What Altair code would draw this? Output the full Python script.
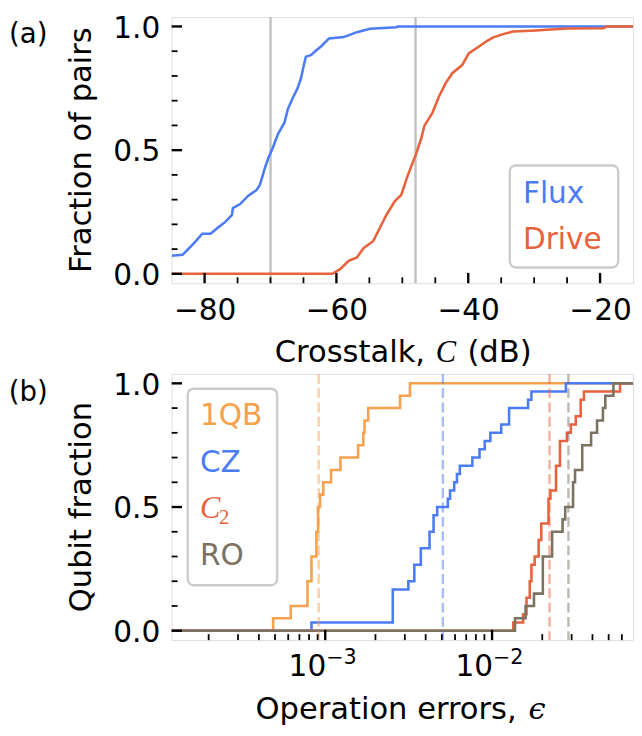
import altair as alt
import pandas as pd

FONT = "DejaVu Sans"
W, H = 468, 270

# ---------------- panel (a): crosstalk CDFs ----------------
flux_db = [-85.0, -83.34, -82.35, -81.6, -80.35, -79.1, -77.86, -76.86, -75.86, -75.71,
           -74.61, -73.36, -72.12, -71.62, -70.87, -70.37, -69.62, -68.87, -67.87, -67.38,
           -66.63, -65.88, -65.38, -64.88, -64.63, -63.88, -63.13, -62.39, -61.64, -61.14,
           -58.89, -56.89, -54.9, -50.9, -50.7, -15.0]
flux_frac = [0.073, 0.077, 0.104, 0.124, 0.162, 0.162, 0.189, 0.21, 0.237, 0.266,
             0.282, 0.316, 0.339, 0.359, 0.426, 0.465, 0.512, 0.565, 0.612, 0.665,
             0.711, 0.751, 0.791, 0.851, 0.878, 0.884, 0.902, 0.918, 0.938, 0.951,
             0.957, 0.977, 0.991, 0.997, 1.0, 1.0]
drive_db = [-85.0, -60.63, -59.39, -58.14, -56.89, -55.89, -54.4, -53.65, -52.4, -51.15,
            -50.16, -49.16, -47.91, -47.16, -46.66, -45.42, -44.42, -43.42, -42.42, -40.92,
            -39.93, -38.43, -37.18, -36.2, -34.7, -33.2, -30.45, -27.45, -24.97, -19.48,
            -18.98, -15.0]
drive_frac = [0.0, 0.0, 0.02, 0.053, 0.066, 0.104, 0.133, 0.173, 0.239, 0.293,
              0.319, 0.399, 0.485, 0.545, 0.598, 0.652, 0.718, 0.771, 0.811, 0.844,
              0.891, 0.918, 0.941, 0.956, 0.969, 0.98, 0.983, 0.988, 0.992, 0.993,
              1.0, 1.0]
crosstalk_median_db = [-70.0, -48.0]
a_series = ["Flux", "Drive"]
a_colors = ["#4c7cf3", "#e8623c"]
a_x_domain = [-85, -15]
a_x_major = [-80, -60, -40, -20]
a_x_minor = [-75, -70, -65, -55, -50, -45, -35, -30, -25]
frac_domain = [-0.038, 1.038]
frac_major = [0.0, 0.5, 1.0]
frac_minor = [0.1, 0.2, 0.3, 0.4, 0.6, 0.7, 0.8, 0.9]

# ---------------- panel (b): operation error CDFs ----------------
b_series = ["1QB", "CZ", "C2", "RO"]
b_colors = ["#f5a14d", "#4c7cf3", "#e8623c", "#7b7261"]
err_1qb = [4.87e-4, 6.21e-4, 7.83e-4, 7.83e-4, 8.27e-4, 8.27e-4, 8.85e-4, 8.85e-4, 9.05e-4, 9.05e-4,
           9.31e-4, 9.73e-4, 1.084e-3, 1.233e-3, 1.574e-3, 1.691e-3, 1.72e-3, 1.81e-3, 2.81e-3, 3.22e-3]
err_cz = [8.27e-4, 2.54e-3, 2.54e-3, 2.54e-3, 2.54e-3, 3.15e-3, 3.42e-3, 3.42e-3, 3.74e-3, 3.74e-3,
          4.22e-3, 4.22e-3, 4.46e-3, 4.46e-3, 4.69e-3, 5.43e-3, 5.60e-3, 5.93e-3, 6.16e-3, 6.41e-3,
          7.62e-3, 8.41e-3, 9.04e-3, 9.77e-3, 1.135e-2, 1.265e-2, 1.265e-2, 1.644e-2, 1.722e-2, 2.772e-2]
err_c2 = [1.341e-2, 1.536e-2, 1.609e-2, 1.609e-2, 1.683e-2, 1.683e-2, 1.722e-2, 1.722e-2, 1.801e-2, 1.902e-2,
          1.902e-2, 1.973e-2, 1.973e-2, 2.18e-2, 2.18e-2, 2.18e-2, 2.239e-2, 2.419e-2, 2.419e-2, 2.419e-2,
          2.554e-2, 2.554e-2, 2.554e-2, 2.81e-2, 2.967e-2, 3.176e-2, 3.399e-2, 3.399e-2, 3.555e-2, 5.853e-2]
err_ro = [1.373e-2, 1.588e-2, 1.784e-2, 2.016e-2, 2.016e-2, 2.016e-2, 2.291e-2, 2.291e-2, 2.647e-2, 2.746e-2,
          3.06e-2, 3.06e-2, 3.145e-2, 3.473e-2, 3.473e-2, 3.925e-2, 4.26e-2, 4.62e-2, 4.775e-2, 5.343e-2]
b_medians = [9.14e-4, 5.07e-3, 2.21e-2, 2.87e-2]
b_x_domain = [1.2e-4, 0.07]
b_x_major = [1e-3, 1e-2]
b_x_major_base = ["10", "10"]
b_x_major_exp = ["\u22123", "\u22122"]
b_x_minor = [2e-4, 3e-4, 4e-4, 5e-4, 6e-4, 7e-4, 8e-4, 9e-4,
             2e-3, 3e-3, 4e-3, 5e-3, 6e-3, 7e-3, 8e-3, 9e-3,
             2e-2, 3e-2, 4e-2, 5e-2, 6e-2]

# ---------------- helpers ----------------
ys = alt.Scale(domain=frac_domain, nice=False, zero=False)
xs_a = alt.Scale(domain=a_x_domain, nice=False, zero=False)
xs_b = alt.Scale(type="log", domain=b_x_domain, nice=False)

ax_common = dict(ticks=False, tickSize=0, domain=False, grid=False, title=None,
                 labelFontSize=30, labelFont=FONT, labelColor="black", labelFlush=False)
ax_xa = alt.Axis(values=a_x_major, format="d", labelPadding=13, **ax_common)
ax_y = alt.Axis(values=frac_major, format=".1f", labelPadding=12, labelOffset=2, **ax_common)


def txt(s, x, y, size=30, color="black", align="left", baseline="alphabetic",
        font=FONT, style="normal", angle=0):
    return alt.Chart(pd.DataFrame({"t": [s]})).mark_text(
        align=align, baseline=baseline, fontSize=size, font=font, fontStyle=style,
        color=color, angle=angle
    ).encode(text="t:N", x=alt.value(x), y=alt.value(y))


def xticks(vals, scale, axis, length, width):
    return alt.Chart(pd.DataFrame({"v": vals})).mark_rule(color="black", strokeWidth=width).encode(
        x=alt.X("v:Q", scale=scale, axis=axis), y=alt.value(H), y2=alt.value(H - length))


def yticks(vals, length, width):
    return alt.Chart(pd.DataFrame({"v": vals})).mark_rule(color="black", strokeWidth=width).encode(
        y=alt.Y("v:Q", scale=ys, axis=ax_y), x=alt.value(0), x2=alt.value(length))


def legend_box(x1, x2, y1, y2):
    return alt.Chart(pd.DataFrame({"a": [0]})).mark_rect(
        fill="white", fillOpacity=0.8, stroke="#cccccc", strokeWidth=2.4, cornerRadius=6
    ).encode(x=alt.value(x1), x2=alt.value(x2), y=alt.value(y1), y2=alt.value(y2))


# ---------------- panel (a) ----------------
a_layers = []
a_layers.append(
    alt.Chart(pd.DataFrame({"x": crosstalk_median_db})).mark_rule(color="#c0c0c0", strokeWidth=2.4)
    .encode(x=alt.X("x:Q", scale=xs_a, axis=ax_xa))
)
for name, col, xv, yv in zip(a_series, a_colors, [flux_db, drive_db], [flux_frac, drive_frac]):
    df = pd.DataFrame({"x": xv, "y": yv, "idx": range(len(xv))})
    a_layers.append(
        alt.Chart(df).mark_line(color=col, strokeWidth=2.6, clip=True).encode(
            x=alt.X("x:Q", scale=xs_a, axis=ax_xa),
            y=alt.Y("y:Q", scale=ys, axis=ax_y),
            order="idx:Q")
    )
a_layers += [xticks(a_x_major, xs_a, ax_xa, 10.5, 2.4), xticks(a_x_minor, xs_a, ax_xa, 6, 1.8),
             yticks(frac_major, 10.5, 2.4), yticks(frac_minor, 6, 1.8)]
a_layers.append(legend_box(343, 453, 150.6, 254))
for k, (name, col) in enumerate(zip(a_series, a_colors)):
    a_layers.append(txt(name, 356.3, 189 + 46.6 * k, color=col))
a_layers.append(txt("(a)", -145.5, 18.6, size=28, align="center", baseline="middle"))
a_layers.append(txt("Fraction of pairs", -82, H / 2, size=31, align="center", angle=270))
a_layers.append(txt("Crosstalk,", 104.6, 350, size=31))
a_layers.append(txt("C", 268, 350, size=31, font="Liberation Serif", style="italic"))
a_layers.append(txt("(dB)", 300, 350, size=31))
chart_a = alt.layer(*a_layers).properties(width=W, height=H)

# ---------------- panel (b) ----------------
b_layers = []
for name, col, vals in zip(b_series, b_colors, [err_1qb, err_cz, err_c2, err_ro]):
    v = sorted(vals)
    n = len(v)
    xs = [b_x_domain[0]] + v + [b_x_domain[1]]
    yv = [0.0] + [(i + 1) / n for i in range(n)] + [1.0]
    df = pd.DataFrame({"x": xs, "y": yv, "idx": range(len(xs))})
    b_layers.append(
        alt.Chart(df).mark_line(color=col, strokeWidth=2.6, interpolate="step-after", clip=True).encode(
            x=alt.X("x:Q", scale=xs_b, axis=None),
            y=alt.Y("y:Q", scale=ys, axis=ax_y),
            order="idx:Q")
    )
for med, col in zip(b_medians, b_colors):
    b_layers.append(
        alt.Chart(pd.DataFrame({"x": [med]})).mark_rule(color=col, opacity=0.5, strokeWidth=2.4,
                                                        strokeDash=[10, 4.5])
        .encode(x=alt.X("x:Q", scale=xs_b, axis=None))
    )
b_layers += [xticks(b_x_major, xs_b, None, 10.5, 2.4), xticks(b_x_minor, xs_b, None, 6, 1.8),
             yticks(frac_major, 10.5, 2.4), yticks(frac_minor, 6, 1.8)]
lab_df = pd.DataFrame({"v": b_x_major, "base": b_x_major_base, "exp": b_x_major_exp})
b_layers.append(
    alt.Chart(lab_df).mark_text(align="right", dx=1, fontSize=30, font=FONT, baseline="alphabetic",
                                color="black")
    .encode(x=alt.X("v:Q", scale=xs_b, axis=None), y=alt.value(306), text="base:N")
)
b_layers.append(
    alt.Chart(lab_df).mark_text(align="left", dx=1, fontSize=21, font=FONT, baseline="alphabetic",
                                color="black")
    .encode(x=alt.X("v:Q", scale=xs_b, axis=None), y=alt.value(294), text="exp:N")
)
b_layers.append(legend_box(16.3, 107, 15, 214.3))
leg_y = [51.6, 99.0, 146.5, 194.3]
for name, col, yy in zip(b_series, b_colors, leg_y):
    if name == "C2":
        b_layers.append(txt("C", 28.7, yy, size=31, color=col, font="Liberation Serif", style="italic"))
        b_layers.append(txt("2", 48, yy + 6, size=21, color=col, font="Liberation Serif"))
    else:
        b_layers.append(txt(name, 28.7, yy, color=col))
b_layers.append(txt("(b)", -145.5, 19, size=28, align="center", baseline="middle"))
b_layers.append(txt("Qubit fraction", -82, H / 2, size=31, align="center", angle=270))
b_layers.append(txt("Operation errors,", 85, 350, size=31))
b_layers.append(txt("\u03f5", 362, 350, size=31, font="DejaVu Serif", style="italic"))
chart_b = alt.layer(*b_layers).properties(width=W, height=H)

chart = alt.vconcat(chart_a, chart_b, spacing=1).properties(
    padding={"top": 0, "left": 0, "right": 0, "bottom": 0}
).configure_view(stroke="black", strokeWidth=2.4).configure(font=FONT)

chart.save("out.html", embed_options={"renderer": "svg", "actions": False})
